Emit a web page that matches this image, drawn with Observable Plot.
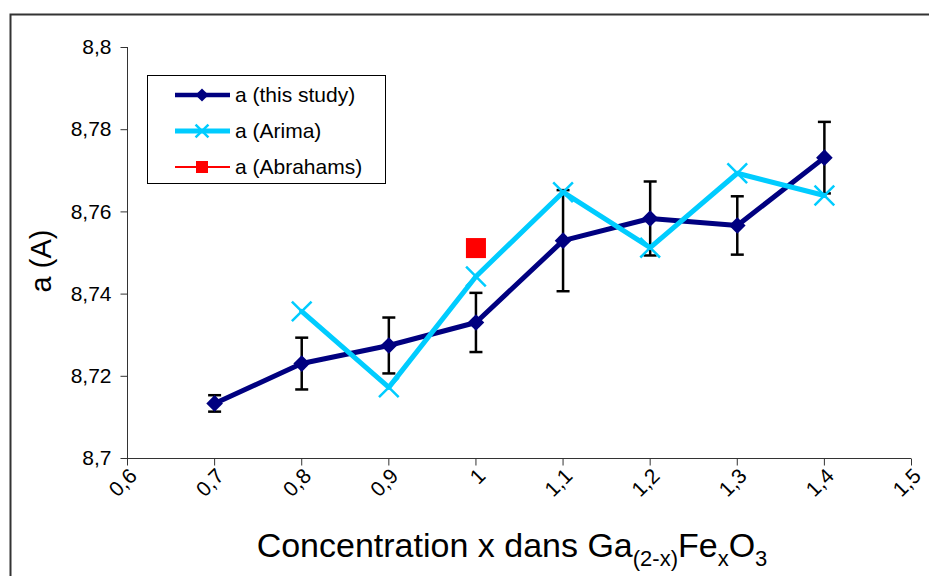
<!DOCTYPE html>
<html>
<head>
<meta charset="utf-8">
<script src="https://cdn.jsdelivr.net/npm/d3@7"></script>
<script src="https://cdn.jsdelivr.net/npm/@observablehq/plot@0.6"></script>
<style>
  html, body { margin: 0; padding: 0; background: #fff; }
  #chart { width: 929px; height: 576px; overflow: hidden; }
</style>
</head>
<body>
<div id="chart"></div>
<script>
// ---- data ----
const xThis = [0.7, 0.8, 0.9, 1.0, 1.1, 1.2, 1.3, 1.4];
const aThis = [8.7134, 8.7231, 8.7275, 8.7331, 8.7530, 8.7584, 8.7567, 8.7732];
const errThis = [0.0020, 0.0063, 0.0068, 0.0072, 0.0123, 0.0090, 0.0071, 0.0087];

const xArima = [0.8, 0.9, 1.0, 1.1, 1.2, 1.3, 1.4];
const aArima = [8.7358, 8.7173, 8.7443, 8.7648, 8.7513, 8.7694, 8.7640];

const xAbrahams = [1.0];
const aAbrahams = [8.7512];

const xTicks = [0.6, 0.7, 0.8, 0.9, 1.0, 1.1, 1.2, 1.3, 1.4, 1.5];
const yTicks = [8.7, 8.72, 8.74, 8.76, 8.78, 8.8];

const seriesNames = ["a (this study)", "a (Arima)", "a (Abrahams)"];
const seriesColors = ["#000080", "#00ccff", "#ff0000"];

// ---- tables ----
const thisStudy = xThis.map((x, i) => ({x, a: aThis[i], e: errThis[i]}));
const arima = xArima.map((x, i) => ({x, a: aArima[i]}));
const abrahams = xAbrahams.map((x, i) => ({x, a: aAbrahams[i]}));

const fmt = d => String(+d.toFixed(2)).replace(".", ",");
const capSymbol = {draw(ctx) { ctx.moveTo(-6.5, 0); ctx.lineTo(6.5, 0); }};
const tickSymY = {draw(ctx) { ctx.moveTo(-7, 0); ctx.lineTo(0, 0); }};
const tickSymX = {draw(ctx) { ctx.moveTo(0, 0); ctx.lineTo(0, 7); }};
const FONT = "'Liberation Sans', Arial, sans-serif";

const W = 929, H = 576;
const plot = Plot.plot({
  width: W,
  height: H,
  marginLeft: 127,
  marginRight: 18,
  marginTop: 47,
  marginBottom: 118,
  style: {fontFamily: FONT, color: "#000", background: "#fff", overflow: "visible"},
  x: {domain: [0.6, 1.5], axis: null},
  y: {domain: [8.7, 8.8], axis: null},
  marks: [
    // axes lines and ticks
    Plot.ruleX([0.6], {stroke: "#333", strokeWidth: 1}),
    Plot.ruleY([8.7], {stroke: "#333", strokeWidth: 1}),
    Plot.dot(yTicks, {x: () => 0.6, y: d => d, symbol: tickSymY, stroke: "#333", strokeWidth: 1}),
    Plot.dot(xTicks, {x: d => d, y: () => 8.7, symbol: tickSymX, stroke: "#333", strokeWidth: 1}),
    // tick labels
    Plot.text(yTicks, {x: () => 0.6, y: d => d, text: fmt, textAnchor: "end", dx: -16, fontSize: 21, fill: "#000"}),
    Plot.text(xTicks, {x: d => d, y: () => 8.7, text: fmt, textAnchor: "end", rotate: -45, dx: 6, dy: 14, fontSize: 21, fill: "#000"}),
    // error bars
    Plot.ruleX(thisStudy, {x: "x", y1: d => d.a - d.e, y2: d => d.a + d.e, stroke: "#000", strokeWidth: 2.5}),
    Plot.dot(thisStudy, {x: "x", y: d => d.a + d.e, symbol: capSymbol, stroke: "#000", strokeWidth: 2.5, fill: "none"}),
    Plot.dot(thisStudy, {x: "x", y: d => d.a - d.e, symbol: capSymbol, stroke: "#000", strokeWidth: 2.5, fill: "none"}),
    // this study
    Plot.line(thisStudy, {x: "x", y: "a", stroke: seriesColors[0], strokeWidth: 5}),
    Plot.dot(thisStudy, {x: "x", y: "a", symbol: "diamond2", r: 7.5, fill: seriesColors[0], stroke: "none"}),
    // Arima
    Plot.line(arima, {x: "x", y: "a", stroke: seriesColors[1], strokeWidth: 5}),
    Plot.dot(arima, {x: "x", y: "a", symbol: "times", r: 9, stroke: seriesColors[1], strokeWidth: 2.5}),
    // Abrahams
    Plot.dot(abrahams, {x: "x", y: "a", symbol: "square", r: 11.3, fill: seriesColors[2], stroke: "none"})
  ]
});

document.getElementById("chart").appendChild(plot);

const svg = d3.select(plot);

// outer chart border
svg.insert("rect", ":first-child")
  .attr("x", 10.5).attr("y", 14.5).attr("width", W + 20).attr("height", H + 20)
  .attr("fill", "none").attr("stroke", "#333").attr("stroke-width", 2);

// axis titles
svg.append("text")
  .attr("transform", "translate(51,261) rotate(-90)")
  .attr("text-anchor", "middle")
  .attr("font-family", FONT)
  .attr("font-size", 29)
  .attr("fill", "#000")
  .text("a (A)");

const xt = svg.append("text")
  .attr("x", 512).attr("y", 557)
  .attr("text-anchor", "middle")
  .attr("font-family", FONT)
  .attr("font-size", 34)
  .attr("fill", "#000");
xt.append("tspan").text("Concentration x dans Ga");
xt.append("tspan").attr("font-size", 22).attr("dy", 9).text("(2-x)");
xt.append("tspan").attr("dy", -9).text("Fe");
xt.append("tspan").attr("font-size", 22).attr("dy", 9).text("x");
xt.append("tspan").attr("dy", -9).text("O");
xt.append("tspan").attr("font-size", 22).attr("dy", 9).text("3");

// legend
const lg = svg.append("g");
lg.append("rect").attr("x", 147.5).attr("y", 75.5).attr("width", 238).attr("height", 108)
  .attr("fill", "#fff").attr("stroke", "#000").attr("stroke-width", 1);
const rows = [95, 131, 167];
const lw = [4.5, 5, 2];
rows.forEach((ry, i) => {
  lg.append("line").attr("x1", 175).attr("x2", 230).attr("y1", ry).attr("y2", ry)
    .attr("stroke", seriesColors[i]).attr("stroke-width", lw[i]);
  if (i === 0) {
    lg.append("path").attr("d", d3.symbol(d3.symbolDiamond2, 110)()).attr("transform", `translate(202,${ry})`).attr("fill", seriesColors[0]);
  } else if (i === 1) {
    lg.append("path").attr("d", d3.symbol(d3.symbolTimes, 110)()).attr("transform", `translate(202,${ry})`).attr("stroke", seriesColors[1]).attr("stroke-width", 2.5).attr("fill", "none");
  } else {
    lg.append("path").attr("d", d3.symbol(d3.symbolSquare, 144)()).attr("transform", `translate(202,${ry})`).attr("fill", seriesColors[2]);
  }
  lg.append("text").attr("x", 235).attr("y", ry).attr("dy", "0.35em")
    .attr("text-anchor", "start")
    .attr("font-family", FONT).attr("font-size", 21).attr("fill", "#000")
    .text(seriesNames[i]);
});
</script>
</body>
</html>
